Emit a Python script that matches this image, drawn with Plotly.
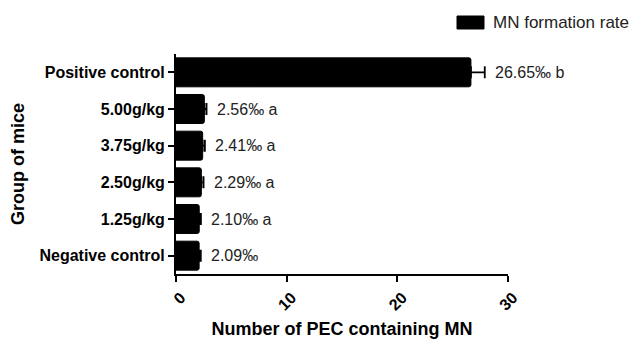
import plotly.graph_objects as go

groups = ["Negative control", "1.25g/kg", "2.50g/kg", "3.75g/kg", "5.00g/kg", "Positive control"]
values = [2.09, 2.10, 2.29, 2.41, 2.56, 26.65]
errors = [0.15, 0.15, 0.2, 0.2, 0.2, 1.25]
labels = ["2.09‰", "2.10‰ a", "2.29‰ a", "2.41‰ a", "2.56‰ a", "26.65‰ b"]
x_ticks = [0, 10, 20, 30]
series_name = "MN formation rate"

FONT = "Liberation Sans, Arial"
OFF = 8  # page body margin
W, H = 639 - OFF, 339 - OFF
L, R, T, B = 176 - OFF, 131, 54 - OFF, 65
PW, PH = W - L - R, H - T - B


def px(xs):  # screen x -> paper
    return (xs - OFF - L) / PW


def py(ys):  # screen y -> paper
    return (H - B - (ys - OFF)) / PH


fig = go.Figure()
fig.add_trace(go.Bar(
    y=groups, x=values, orientation="h", name=series_name,
    marker=dict(color="black", line=dict(color="black", width=1), cornerradius=2),
    width=0.79,
    error_x=dict(type="data", array=errors, symmetric=False, arrayminus=[0]*6,
                 color="black", thickness=1.8, width=6),
    showlegend=False,
))

for g, v, e, t in zip(groups, values, errors, labels):
    fig.add_annotation(x=v + e, y=g, text=t, showarrow=False, xanchor="left",
                       xshift=8, font=dict(family=FONT, size=16, color="#222"))

# legend drawn manually
fig.add_shape(type="rect", xref="paper", yref="paper",
              x0=px(457), x1=px(484), y0=py(29), y1=py(16),
              fillcolor="black", line=dict(color="black", width=1))
fig.add_annotation(xref="paper", yref="paper", x=px(491), y=py(22.5),
                   text=series_name, showarrow=False, xanchor="left", yanchor="middle",
                   font=dict(family=FONT, size=17, color="#222"))

fig.update_layout(
    width=W, height=H,
    margin=dict(l=L, r=R, t=T, b=B),
    plot_bgcolor="white", paper_bgcolor="white",
    font=dict(family=FONT, color="black"),
)
fig.update_xaxes(range=[0, 30], tickvals=x_ticks, tickangle=-45, showline=True, linecolor="black",
                 linewidth=2, ticks="outside", ticklen=6, tickwidth=2, tickcolor="black",
                 showgrid=False, zeroline=False, automargin=False,
                 ticklabelshift=5, ticklabelstandoff=0,
                 tickfont=dict(family=FONT, size=16, weight="bold"),
                 title=dict(text="<b>Number of PEC containing MN</b>", font=dict(size=18), standoff=12))
fig.update_yaxes(range=[-0.5, 5.5], showline=True, linecolor="black", linewidth=2,
                 ticks="outside", ticklen=6, tickwidth=2, tickcolor="black", showgrid=False,
                 automargin=False,
                 tickfont=dict(family=FONT, size=16, weight="bold"),
                 title=dict(text="<b>Group of mice</b>", font=dict(size=18), standoff=11))

fig.write_html("out.html")
